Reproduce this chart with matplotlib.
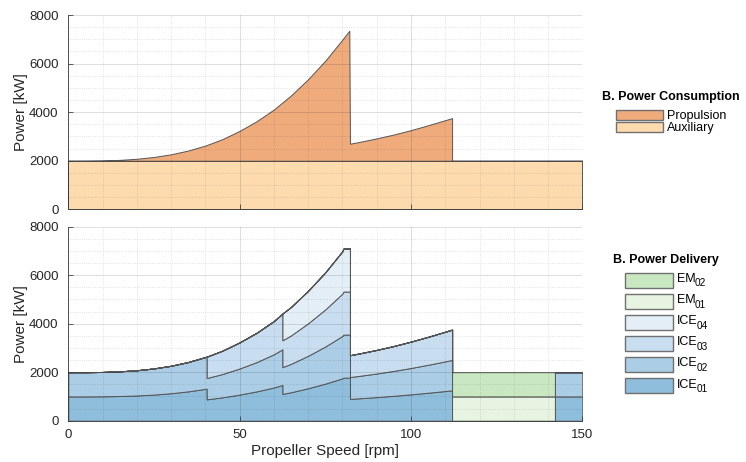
import numpy as np
import matplotlib
matplotlib.use('Agg')
import matplotlib.pyplot as plt
from matplotlib.patches import Rectangle

plt.rcParams['font.family'] = ['Liberation Sans', 'DejaVu Sans']

# --- Power consumption (top) ---
aux_rpm = [0, 150]
aux_kw = [2000, 2000]

prop_rpm = [0, 5, 10, 15, 20, 25, 30, 35, 40, 45, 50, 55, 60, 65, 70, 75, 80, 82,
            82.2, 85, 90, 95, 100, 105, 110, 112,
            112, 150]
prop_kw = [0, 1, 10, 35, 80, 155, 265, 420, 625, 890, 1230, 1630, 2110, 2690, 3360, 4120, 4990, 5350,
           700, 775, 920, 1080, 1260, 1460, 1670, 1755,
           0, 0]

# --- Power delivery (bottom): load per running unit, by operating range ---
rpm_a = [0, 5, 10, 15, 20, 25, 30, 35, 40, 40.4]
load_a = [1000, 1000, 1005, 1018, 1040, 1078, 1133, 1210, 1313, 1320]   # 2 ICE

rpm_b = [40.4, 45, 50, 55, 60, 62.5]
load_b = [880, 963, 1077, 1210, 1370, 1473]                              # 3 ICE

rpm_c = [62.5, 65, 70, 75, 80, 80.3, 82.2]
load_c = [1105, 1173, 1340, 1530, 1748, 1775, 1775]                      # 4 ICE

rpm_d = [82.2, 85, 90, 95, 100, 105, 110, 112]
load_d = [900, 925, 973, 1027, 1087, 1153, 1223, 1252]                   # 3 ICE

rpm_e = [112, 142]
load_e = [1000, 1000]                                                    # 2 EM

rpm_f = [142, 150]
load_f = [1000, 1000]                                                    # 2 ICE

ice_running = [2, 3, 4, 3, 0, 2]
em_running = [0, 0, 0, 0, 2, 0]

units = ['ICE', 'ICE', 'ICE', 'ICE', 'EM', 'EM']
unit_idx = ['01', '02', '03', '04', '01', '02']
unit_colors = ['#8fbddc', '#abcde5', '#c8ddef', '#e3eef7', '#e6f4e1', '#c9e8c1']
prop_color = '#efab7c'
aux_color = '#fddbae'
edge = '#555555'

W, H = 746, 462
fig = plt.figure(figsize=(W / 100, H / 100), dpi=100)
ax_top = fig.add_axes([68.3 / W, 1 - 209.3 / H, 514 / W, 194.3 / H])
ax_bot = fig.add_axes([68.3 / W, 1 - 420.7 / H, 514 / W, 194 / H])

# top chart
ax_top.fill_between(aux_rpm, 0, aux_kw, facecolor=aux_color, edgecolor=edge, lw=0.7)
base = np.interp(prop_rpm, aux_rpm, aux_kw)
ax_top.fill_between(prop_rpm, base, base + np.array(prop_kw),
                    facecolor=prop_color, edgecolor=edge, lw=0.7)

# bottom chart: build stacked layers
seg_rpm = [rpm_a, rpm_b, rpm_c, rpm_d, rpm_e, rpm_f]
seg_load = [load_a, load_b, load_c, load_d, load_e, load_f]
xs, cols = [], []
for r, l, ni, ne in zip(seg_rpm, seg_load, ice_running, em_running):
    block = np.zeros((6, len(r)))
    for i in range(ni):
        block[i] = l
    for j in range(ne):
        block[4 + j] = l
    xs.append(np.array(r, dtype=float))
    cols.append(block)
x = np.concatenate(xs)
layers = np.hstack(cols)
cum = np.cumsum(layers, axis=0)
for k in range(6):
    lower = cum[k - 1] if k > 0 else np.zeros_like(x)
    ax_bot.fill_between(x, lower, cum[k], facecolor=unit_colors[k], edgecolor=edge, lw=0.7)

for ax in (ax_top, ax_bot):
    ax.set_xlim(0, 150)
    ax.set_ylim(0, 8000)
    ax.set_xticks([0, 50, 100, 150])
    ax.set_yticks([0, 2000, 4000, 6000, 8000])
    ax.set_xticks(np.arange(0, 151, 10), minor=True)
    ax.set_yticks(np.arange(0, 8001, 500), minor=True)
    ax.set_axisbelow(False)
    ax.grid(which='major', color='k', alpha=0.15, lw=0.6, ls='-')
    ax.grid(which='minor', color='k', alpha=0.15, lw=0.6, ls=':')
    ax.tick_params(which='major', direction='in', length=3.5, width=0.6,
                   labelsize=9.5, labelcolor='#262626', color='#404040')
    ax.tick_params(axis='y', pad=7)
    ax.tick_params(axis='x', pad=6)
    ax.tick_params(which='minor', length=0)
    for s in ('top', 'right'):
        ax.spines[s].set_visible(False)
    for s in ('left', 'bottom'):
        ax.spines[s].set_color('#404040')
        ax.spines[s].set_linewidth(0.6)
    ax.set_ylabel('Power [kW]', fontsize=11, color='#262626', labelpad=1)

ax_top.tick_params(labelbottom=False)
ax_bot.set_xlabel('Propeller Speed [rpm]', fontsize=11, color='#262626', labelpad=2)


def legend_box(x0, y0, w, h, color):
    fig.add_artist(Rectangle((x0 / W, 1 - (y0 + h) / H), w / W, h / H,
                             transform=fig.transFigure, facecolor=color,
                             edgecolor='#707070', lw=1.0))


# legend: consumption
fig.text(601.5 / W, 1 - 99.5 / H, 'B. Power Consumption', fontsize=9,
         fontweight='bold', va='baseline', ha='left')
for i, (lab, c) in enumerate(zip(['Propulsion', 'Auxiliary'], [prop_color, aux_color])):
    top = 109.5 + i * 12.3
    legend_box(616, top, 47, 10.5, c)
    fig.text(667.3 / W, 1 - (top + 9) / H, lab, fontsize=9, va='baseline', ha='left')

# legend: delivery
fig.text(612.7 / W, 1 - 262.7 / H, 'B. Power Delivery', fontsize=9,
         fontweight='bold', va='baseline', ha='left')
renderer = fig.canvas.get_renderer()
for i, k in enumerate(range(5, -1, -1)):
    top = 272.7 + i * 21.1
    legend_box(625, top, 47.7, 15, unit_colors[k])
    t = fig.text(677.3 / W, 1 - (top + 9.3) / H, units[k], fontsize=9,
                 va='baseline', ha='left')
    x_end = t.get_window_extent(renderer).x1
    # subscript index, set lower and a bit smaller
    fig.text((x_end - 1.0) / W, 1 - (top + 13.8) / H, unit_idx[k], fontsize=7.2,
             va='baseline', ha='left')

fig.savefig('out.png', dpi=100)
